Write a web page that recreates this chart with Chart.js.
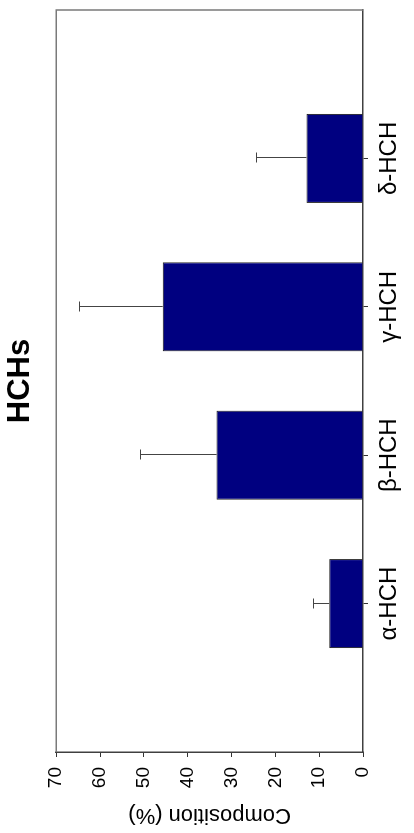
<!DOCTYPE html>
<html>
<head>
<meta charset="utf-8">
<script src="https://cdn.jsdelivr.net/npm/chart.js@4/dist/chart.umd.min.js"></script>
<style>
  html, body { margin: 0; padding: 0; background: #fff; }
  #wrap { position: relative; width: 414px; height: 833px; overflow: hidden; background: #fff; }
  #c { position: absolute; left: 0; top: 0; width: 833px; height: 414px;
       transform-origin: 0 0; transform: translateY(833px) rotate(-90deg); }
</style>
</head>
<body>
<div id="wrap"><canvas id="c" width="833" height="414"></canvas></div>
<script>
const chartTitle = 'HCHs';
const valueAxisTitle = 'Composition (%)';
const categories = ['α-HCH', 'β-HCH', 'γ-HCH', 'δ-HCH'];
const composition = [7.7, 33.4, 45.7, 12.9];
const deviation = [3.8, 17.4, 19.2, 11.5];
const valueTicks = [0, 10, 20, 30, 40, 50, 60, 70];

const FONT = "'Liberation Sans', Arial, sans-serif";

const boxAndErrors = {
  id: 'boxAndErrors',
  afterDatasetsDraw(chart) {
    const { ctx, chartArea, scales } = chart;
    const x = scales.x, y = scales.y;
    ctx.save();
    // error bars (upper)
    ctx.strokeStyle = '#444';
    ctx.lineWidth = 1;
    composition.forEach((v, i) => {
      const px = Math.round(x.getPixelForValue(i + 1)) + 0.5;
      const y0 = y.getPixelForValue(v);
      const y1 = Math.round(y.getPixelForValue(v + deviation[i])) + 0.5;
      ctx.beginPath();
      ctx.moveTo(px, y0);
      ctx.lineTo(px, y1);
      ctx.moveTo(px - 5, y1);
      ctx.lineTo(px + 5, y1);
      ctx.stroke();
    });
    // plot box (top and right edges)
    ctx.strokeStyle = '#7a7a7a';
    ctx.lineWidth = 1.5;
    ctx.beginPath();
    ctx.moveTo(chartArea.left, chartArea.top);
    ctx.lineTo(chartArea.right, chartArea.top);
    ctx.lineTo(chartArea.right, chartArea.bottom);
    ctx.stroke();
    ctx.restore();
  }
};

new Chart(document.getElementById('c'), {
  type: 'bar',
  data: {
    datasets: [{
      data: categories.map((c, i) => ({ x: i + 1, y: composition[i] })),
      backgroundColor: '#000080',
      borderColor: '#1a1a1a',
      borderWidth: 1,
      barPercentage: 0.6,
      categoryPercentage: 1
    }]
  },
  options: {
    responsive: false,
    animation: false,
    devicePixelRatio: 1,
    layout: { padding: { left: 0, right: 10, top: 0, bottom: 0 } },
    plugins: {
      legend: { display: false },
      tooltip: { enabled: false },
      title: {
        display: true,
        text: chartTitle,
        fullSize: false,
        color: '#000',
        font: { family: FONT, size: 31, weight: 'bold', lineHeight: 1.2 },
        padding: { top: 2, bottom: 17 }
      }
    },
    scales: {
      x: {
        type: 'linear',
        min: 0,
        max: 5,
        offset: false,
        afterBuildTicks: (s) => { s.ticks = categories.map((c, i) => ({ value: i + 1 })); },
        afterFit: (s) => { s.height = 51; },
        grid: { display: true, drawOnChartArea: false, offset: false, tickLength: 5, tickColor: '#333', tickWidth: 1 },
        border: { display: true, color: '#404040', width: 1.5 },
        ticks: {
          color: '#000',
          padding: 7,
          maxRotation: 0,
          font: { family: FONT, size: 24 },
          callback: (v) => categories[v - 1] || ''
        }
      },
      y: {
        min: 0,
        max: 70,
        afterBuildTicks: (s) => { s.ticks = valueTicks.map(v => ({ value: v })); },
        afterFit: (s) => { s.width = 81; },
        grid: { display: true, drawOnChartArea: false, tickLength: 5, tickColor: '#333', tickWidth: 1 },
        border: { display: true, color: '#404040', width: 1.5 },
        ticks: {
          color: '#000',
          padding: 10,
          font: { family: FONT, size: 19 }
        },
        title: {
          display: true,
          text: valueAxisTitle,
          color: '#000',
          font: { family: FONT, size: 22 },
          padding: { top: 5, bottom: 0 }
        }
      }
    }
  },
  plugins: [boxAndErrors]
});
</script>
</body>
</html>
